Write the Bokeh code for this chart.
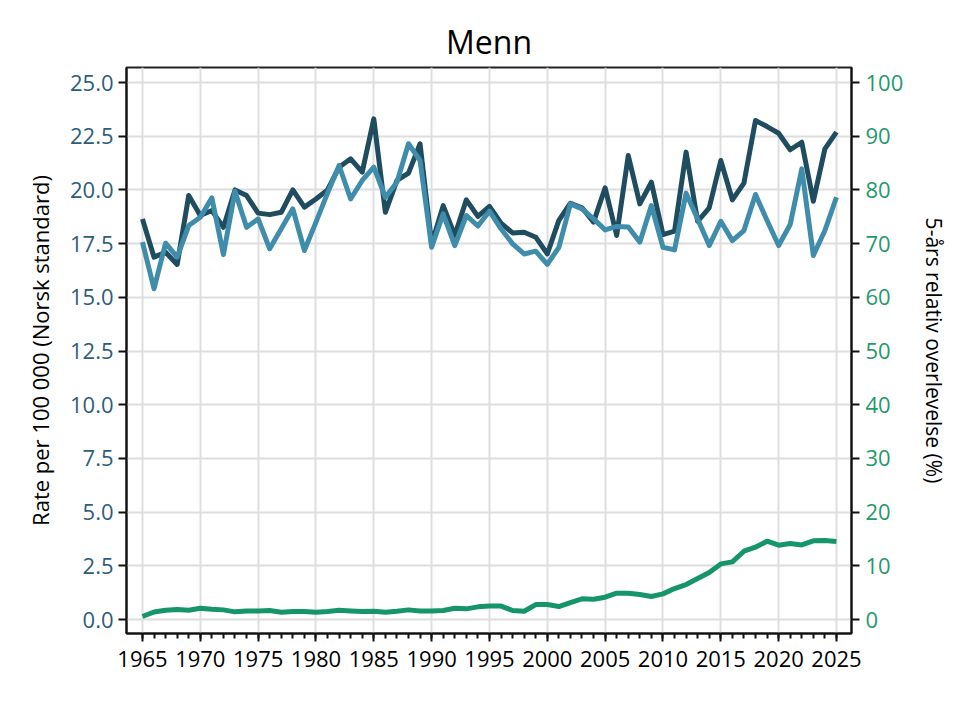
from bokeh.plotting import figure
from bokeh.models import Range1d, LinearAxis, FixedTicker, NumeralTickFormatter
from bokeh.embed import file_html
from bokeh.resources import INLINE

# Yearly series, men
years = list(range(1965, 2026))

incidence = [
    18.65, 16.87, 17.10, 16.53, 19.74, 18.81, 19.04, 18.26, 20.00, 19.74,
    18.92, 18.85, 18.96, 20.00, 19.20, 19.58, 20.00, 21.06, 21.45, 20.83,
    23.31, 18.96, 20.44, 20.78, 22.15, 17.49, 19.27, 17.88, 19.54, 18.77,
    19.23, 18.45, 18.00, 18.03, 17.80, 17.02, 18.58, 19.38, 19.17, 18.50,
    20.10, 17.88, 21.60, 19.35, 20.36, 17.92, 18.08, 21.76, 18.54, 19.17,
    21.37, 19.54, 20.32, 23.23, 22.95, 22.64, 21.87, 22.22, 19.47, 21.91,
    22.69,
]

mortality = [
    17.57, 15.40, 17.52, 16.87, 18.34, 18.73, 19.63, 16.99, 19.94, 18.26,
    18.65, 17.26, 18.19, 19.12, 17.18, 18.50, 19.85, 21.14, 19.58, 20.44,
    21.06, 19.66, 20.36, 22.15, 21.37, 17.33, 18.89, 17.41, 18.81, 18.32,
    19.01, 18.19, 17.49, 17.02, 17.15, 16.53, 17.33, 19.35, 19.12, 18.65,
    18.14, 18.30, 18.27, 17.57, 19.27, 17.33, 17.21, 19.85, 18.65, 17.41,
    18.54, 17.64, 18.11, 19.79, 18.58, 17.41, 18.39, 20.98, 16.95, 18.11,
    19.66,
]

# 5-year relative survival, percent (right axis)
survival = [
    0.56, 1.40, 1.74, 1.86, 1.74, 2.10, 1.92, 1.80, 1.43, 1.60,
    1.60, 1.68, 1.36, 1.49, 1.49, 1.36, 1.49, 1.74, 1.60, 1.49,
    1.55, 1.36, 1.55, 1.80, 1.60, 1.60, 1.68, 2.10, 1.99, 2.36,
    2.50, 2.50, 1.68, 1.55, 2.79, 2.79, 2.42, 3.17, 3.85, 3.79,
    4.16, 4.90, 4.90, 4.66, 4.29, 4.78, 5.77, 6.52, 7.64, 8.75,
    10.36, 10.74, 12.72, 13.47, 14.59, 13.84, 14.15, 13.90, 14.65, 14.71,
    14.53,
]

x_major = list(range(1965, 2026, 5))
left_ticks = [i * 2.5 for i in range(11)]
right_ticks = list(range(0, 101, 10))

FONT = "'Open Sans', sans-serif"
DARK = "#1f4d5f"
MID = "#3f8dab"
GREEN = "#17956a"
LEFT_LABEL = "#2d5d7c"
RIGHT_LABEL = "#1f9a6c"
TICK_SIZE = "22px"

p = figure(
    width=970, height=706,
    x_range=Range1d(1963.62, 2026.3),
    y_range=Range1d(-0.65, 25.7),
    output_backend="svg", toolbar_location=None,
    min_border_left=126, min_border_right=119,
    min_border_top=67, min_border_bottom=73,
)
p.extra_y_ranges = {"right": Range1d(-2.6, 102.8)}

p.title.text = "Menn"
p.title.align = "center"
p.title.text_font = FONT
p.title.text_font_size = "32px"
p.title.text_font_style = "normal"
p.title.text_color = "black"
p.title.offset = 0

p.outline_line_color = "#222222"
p.outline_line_width = 2
p.background_fill_color = "white"
p.border_fill_color = "white"

# bottom axis
xa = p.xaxis[0]
xa.ticker = FixedTicker(ticks=x_major, minor_ticks=years)
xa.major_label_text_font = FONT
xa.major_label_text_font_size = TICK_SIZE
xa.major_label_text_color = "black"
xa.axis_line_width = 2
xa.axis_line_color = "#111111"
xa.major_tick_line_width = 2
xa.major_tick_line_color = "#111111"
xa.major_tick_out = 8
xa.major_tick_in = 0
xa.minor_tick_line_width = 2
xa.minor_tick_line_color = "#111111"
xa.minor_tick_out = 5
xa.minor_tick_in = 0
xa.major_label_standoff = 9

# left axis
ya = p.yaxis[0]
ya.ticker = FixedTicker(ticks=left_ticks)
ya.formatter = NumeralTickFormatter(format="0.0")
ya.axis_label = "Rate per 100 000 (Norsk standard)"
ya.axis_label_text_font = FONT
ya.axis_label_text_font_size = "22px"
ya.axis_label_text_font_style = "normal"
ya.axis_label_text_color = "black"
ya.axis_label_standoff = 12
ya.major_label_text_font = FONT
ya.major_label_text_font_size = TICK_SIZE
ya.major_label_text_color = LEFT_LABEL
ya.axis_line_width = 2
ya.axis_line_color = "#111111"
ya.major_tick_line_width = 2
ya.major_tick_line_color = "#111111"
ya.major_tick_out = 8
ya.major_tick_in = 0
ya.minor_tick_line_color = None
ya.major_label_standoff = 5

# right axis
ra = LinearAxis(y_range_name="right", ticker=FixedTicker(ticks=right_ticks))
ra.axis_label = "5-års relativ overlevelse (%)"
ra.axis_label_text_font = FONT
ra.axis_label_text_font_size = "21px"
ra.axis_label_text_font_style = "normal"
ra.axis_label_text_color = "black"
ra.axis_label_standoff = 14
ra.major_label_text_font = FONT
ra.major_label_text_font_size = TICK_SIZE
ra.major_label_text_color = RIGHT_LABEL
ra.axis_line_width = 2
ra.axis_line_color = "#111111"
ra.major_tick_line_width = 2
ra.major_tick_line_color = "#111111"
ra.major_tick_out = 8
ra.major_tick_in = 0
ra.minor_tick_line_color = None
ra.major_label_standoff = 6
p.add_layout(ra, "right")

# grid
p.xgrid.ticker = FixedTicker(ticks=x_major)
p.xgrid.grid_line_color = "#dedede"
p.xgrid.grid_line_width = 2
p.ygrid.ticker = FixedTicker(ticks=left_ticks)
p.ygrid.grid_line_color = "#dedede"
p.ygrid.grid_line_width = 2

# series
p.line(years, incidence, line_color=DARK, line_width=5, line_join="round")
p.line(years, mortality, line_color=MID, line_width=5, line_join="round")
p.line(years, survival, line_color=GREEN, line_width=5, line_join="round",
       y_range_name="right")

open("out.html", "w").write(file_html(p, INLINE))
